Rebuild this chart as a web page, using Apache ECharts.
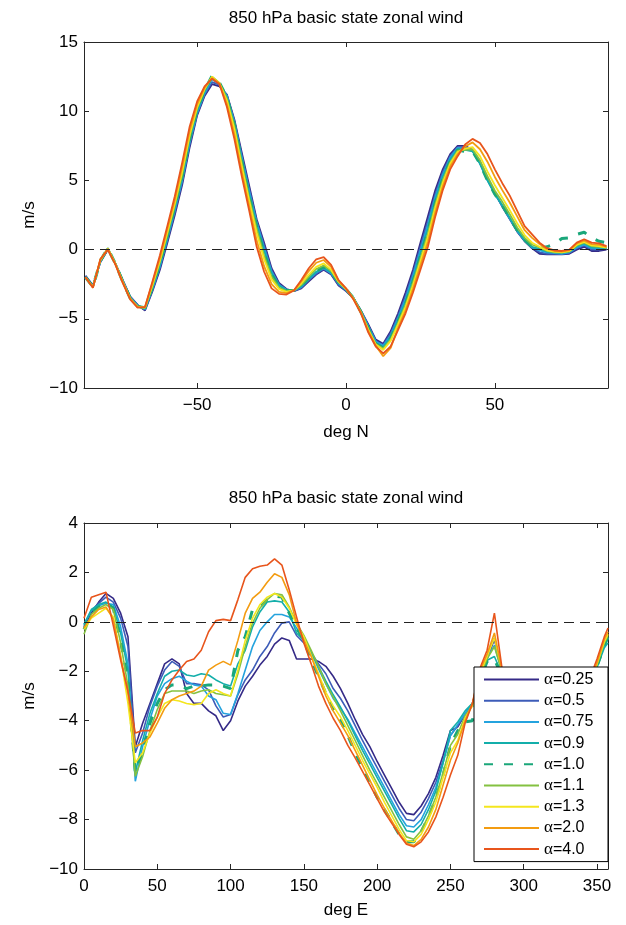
<!DOCTYPE html>
<html><head><meta charset="utf-8">
<script src="https://cdn.jsdelivr.net/npm/echarts@6/dist/echarts.min.js"></script>
<style>html,body{margin:0;padding:0;background:#fff}#c{width:626px;height:925px}</style>
</head><body><div id="c"></div>
<script>
// ---------- data ----------
const seriesNames = ['α=0.25','α=0.5','α=0.75','α=0.9','α=1.0','α=1.1','α=1.3','α=2.0','α=4.0'];
const seriesColors = ['#352a87','#3d5cb8','#24a3de','#13aeaa','#1aa77a','#84c141','#f4e61e','#f39c11','#e8551c'];

const latitudes = [-87.5,-85,-82.5,-80,-77.5,-75,-72.5,-70,-67.5,-65,-62.5,-60,-57.5,-55,-52.5,-50,-47.5,-45,-42.5,-40,-37.5,-35,-32.5,-30,-27.5,-25,-22.5,-20,-17.5,-15,-12.5,-10,-7.5,-5,-2.5,0,2.5,5,7.5,10,12.5,15,17.5,20,22.5,25,27.5,30,32.5,35,37.5,40,42.5,45,47.5,50,52.5,55,57.5,60,62.5,65,67.5,70,72.5,75,77.5,80,82.5,85,87.5];

const latWind_a025 = [-1.9,-2.6,-0.9,0.0,-1.0,-2.2,-3.4,-4.0,-4.4,-3.0, -1.45,0.5,2.5,4.7,7.4,9.7,11.1,11.95,11.8,11.2, 9.4,7.0,4.6,2.2,0.5,-1.35,-2.4,-2.85,-3.0,-2.8, -2.3,-1.8,-1.45,-1.8,-2.6,-3.0,-3.5,-4.4,-5.4,-6.5, -6.8,-5.9,-4.6,-3.1,-1.45,0.5,2.4,4.3,5.8,6.9, 7.5,7.5,7.2,6.3,5.1,4.1,3.1,2.2,1.3,0.6, 0.1,-0.3,-0.35,-0.35,-0.35,-0.3,0.0,0.2,-0.1,-0.1,0.0];
const latWind_a05 = [-1.9,-2.6,-0.9,0.0,-1.0,-2.2,-3.4,-4.0,-4.35,-2.9, -1.3,0.65,2.7,4.9,7.6,9.8,11.2,12.1,11.9,11.15, 9.3,6.8,4.4,2.05,0.3,-1.5,-2.5,-2.9,-3.0,-2.75, -2.2,-1.75,-1.4,-1.75,-2.55,-2.95,-3.5,-4.45,-5.5,-6.6, -6.9,-6.05,-4.8,-3.35,-1.7,0.2,2.05,4.0,5.6,6.75, 7.4,7.4,7.15,6.25,5.05,4.05,3.15,2.25,1.35,0.65, 0.15,-0.2,-0.3,-0.3,-0.3,-0.25,0.1,0.3,0.0,0.0,0.05];
const latWind_a075 = [-2.0,-2.65,-0.85,0.05,-1.0,-2.25,-3.45,-4.05,-4.3,-2.85, -1.2,0.8,2.85,5.05,7.75,9.9,11.3,12.3,11.95,11.1, 9.2,6.65,4.2,1.95,0.1,-1.6,-2.55,-2.9,-2.95,-2.7, -2.15,-1.65,-1.35,-1.7,-2.45,-2.9,-3.5,-4.45,-5.55,-6.65, -6.95,-6.2,-4.95,-3.55,-1.9,-0.05,1.8,3.8,5.4,6.65, 7.35,7.3,7.15,6.25,5.05,4.05,3.15,2.25,1.35,0.65, 0.15,-0.05,-0.2,-0.25,-0.3,-0.2,0.15,0.35,0.1,0.05,0.1];
const latWind_a09 = [-2.0,-2.7,-0.8,0.1,-1.0,-2.3,-3.5,-4.1,-4.25,-2.75, -1.1,0.9,3.0,5.2,7.9,10.0,11.4,12.45,12.0,11.05, 9.1,6.5,4.0,1.8,-0.1,-1.7,-2.6,-2.95,-2.95,-2.65, -2.1,-1.6,-1.3,-1.65,-2.4,-2.9,-3.5,-4.5,-5.65,-6.75, -7.05,-6.3,-5.1,-3.75,-2.15,-0.3,1.5,3.6,5.25,6.5, 7.25,7.2,7.1,6.2,5.0,4.0,3.2,2.3,1.4,0.7, 0.2,0.05,-0.15,-0.2,-0.25,-0.15,0.25,0.45,0.15,0.15,0.1];
const latWind_a10 = [-2.0,-2.7,-0.8,0.1,-1.0,-2.3,-3.5,-4.1,-4.2,-2.7, -1.0,1.0,3.1,5.3,8.0,10.1,11.5,12.55,12.05,11.0, 9.05,6.4,3.85,1.7,-0.25,-1.8,-2.65,-2.95,-2.95,-2.6, -2.05,-1.55,-1.25,-1.6,-2.35,-2.85,-3.5,-4.5,-5.7,-6.8, -7.1,-6.4,-5.2,-3.9,-2.3,-0.5,1.3,3.4,5.1,6.4, 7.2,7.1,7.1,6.2,5.0,4.0,3.2,2.3,1.4,0.7, 0.2,0.1,0.2,0.4,0.8,0.85,1.1,1.25,0.85,0.6,0.5];
const latWind_a11 = [-2.0,-2.7,-0.8,0.1,-1.0,-2.3,-3.5,-4.1,-4.2,-2.65, -0.9,1.1,3.2,5.45,8.15,10.2,11.55,12.5,12.05,10.9, 8.9,6.25,3.7,1.5,-0.45,-1.95,-2.75,-3.0,-2.95,-2.55, -1.95,-1.4,-1.15,-1.55,-2.35,-2.85,-3.5,-4.5,-5.75,-6.85, -7.15,-6.5,-5.3,-4.0,-2.4,-0.65,1.15,3.25,5.0,6.3, 7.15,7.2,7.25,6.45,5.3,4.25,3.45,2.55,1.6,0.85, 0.35,0.15,-0.1,-0.2,-0.2,-0.15,0.3,0.5,0.25,0.2,0.15];
const latWind_a13 = [-2.0,-2.7,-0.75,0.05,-1.0,-2.35,-3.55,-4.15,-4.2,-2.55, -0.8,1.25,3.35,5.65,8.3,10.3,11.6,12.5,12.0,10.75, 8.7,6.0,3.5,1.2,-0.7,-2.15,-2.85,-3.05,-2.95,-2.45, -1.8,-1.25,-1.0,-1.45,-2.3,-2.85,-3.55,-4.55,-5.8,-6.85, -7.25,-6.6,-5.4,-4.15,-2.6,-0.85,0.9,3.05,4.8,6.2, 7.05,7.3,7.4,6.75,5.65,4.65,3.75,2.85,1.9,1.05, 0.5,0.2,-0.05,-0.15,-0.2,-0.1,0.35,0.55,0.3,0.25,0.15];
const latWind_a20 = [-2.0,-2.75,-0.7,0.05,-1.05,-2.35,-3.55,-4.15,-4.15,-2.4, -0.6,1.5,3.6,6.0,8.6,10.5,11.7,12.4,12.0,10.5, 8.3,5.6,3.1,0.65,-1.2,-2.5,-3.05,-3.15,-2.95,-2.3, -1.55,-0.95,-0.75,-1.25,-2.25,-2.8,-3.55,-4.55,-5.9,-6.95, -7.7,-7.1,-5.65,-4.4,-2.85,-1.15,0.55,2.7,4.55,6.0, 6.9,7.45,7.75,7.25,6.35,5.25,4.3,3.4,2.4,1.4, 0.85,0.4,0.05,-0.1,-0.15,-0.05,0.45,0.65,0.4,0.35,0.2];
const latWind_a40 = [-2.0,-2.75,-0.7,0.0,-1.05,-2.4,-3.6,-4.2,-4.15,-2.3, -0.4,1.7,3.85,6.3,8.9,10.7,11.8,12.35,11.95,10.3, 8.0,5.3,2.8,0.2,-1.6,-2.8,-3.2,-3.25,-2.95,-2.2, -1.35,-0.7,-0.55,-1.1,-2.2,-2.8,-3.6,-4.6,-6.0,-7.0, -7.5,-7.0,-5.8,-4.6,-3.1,-1.45,0.2,2.4,4.3,5.8, 6.75,7.6,8.0,7.7,6.9,5.8,4.8,3.9,2.8,1.7, 1.1,0.5,0.1,-0.05,-0.1,0.0,0.5,0.75,0.5,0.45,0.25];

const longitudes = [0,5,10,15,20,25,30,35,40,45,50,55,60,65,70,75,80,85,90,95,100,105,110,115,120,125,130,135,140,145,150,155,160,165,170,175,180,185,190,195,200,205,210,215,220,225,230,235,240,245,250,255,260,265,270,275,280,285,290,295,300,305,310,315,320,325,330,335,340,345,350,355,357.5];

const lonWind_a025 = [-0.2,0.35,0.8,1.15,0.95,0.35,-0.6,-5.05,-4.1,-3.3, -2.5,-1.7,-1.5,-1.7,-2.9,-3.3,-3.3,-3.6,-3.8,-4.4, -4.0,-3.2,-2.6,-2.2,-1.75,-1.4,-0.9,-0.65,-0.75,-1.5, -1.5,-1.5,-1.6,-1.8,-2.2,-2.7,-3.3,-3.95,-4.55,-5.05, -5.65,-6.2,-6.75,-7.3,-7.75,-7.8,-7.45,-6.95,-6.3,-5.4, -4.4,-4.25,-3.75,-3.3,-2.4,-1.5,-0.7,-2.0,-3.0,-3.4, -3.6,-3.8,-3.9,-4.0,-4.0,-3.9,-3.7,-3.4,-3.0,-2.5, -1.75,-0.85,-0.6];
const lonWind_a05 = [-0.15,0.45,0.75,1.0,0.8,0.15,-1.0,-5.3,-4.5,-3.4, -2.6,-1.95,-1.6,-1.8,-2.5,-2.5,-2.55,-2.75,-3.4,-3.85, -3.75,-2.95,-2.35,-1.95,-1.4,-1.0,-0.45,-0.05,0.0,-0.55, -0.85,-1.25,-1.7,-2.1,-2.7,-3.1,-3.6,-4.2,-4.8,-5.35, -5.9,-6.45,-7.0,-7.55,-8.0,-8.05,-7.7,-7.15,-6.5,-5.6, -4.6,-4.2,-3.75,-3.3,-2.3,-1.4,-0.65,-2.0,-3.0,-3.5, -3.7,-3.9,-4.0,-4.1,-4.1,-4.0,-3.8,-3.5,-3.1,-2.55, -1.75,-0.9,-0.65];
const lonWind_a075 = [-0.1,0.45,0.65,0.75,0.7,-0.2,-1.7,-6.45,-5.05,-3.95, -3.0,-2.5,-2.3,-2.2,-2.4,-2.55,-2.6,-3.0,-3.15,-3.7, -3.75,-2.9,-1.95,-1.0,-0.35,0.0,0.3,0.3,0.2,-0.25, -0.65,-1.25,-1.9,-2.5,-3.1,-3.5,-3.95,-4.5,-5.05,-5.6, -6.15,-6.7,-7.25,-7.8,-8.25,-8.3,-8.0,-7.4,-6.7,-5.7, -4.6,-4.15,-3.7,-3.3,-2.3,-1.45,-0.95,-2.0,-3.1,-3.5, -3.8,-4.0,-4.1,-4.2,-4.2,-4.1,-3.9,-3.6,-3.2,-2.6, -1.8,-0.95,-0.7];
const lonWind_a09 = [-0.1,0.5,0.7,0.8,0.6,-0.45,-1.95,-6.1,-4.8,-3.7, -2.9,-2.2,-2.0,-1.95,-2.15,-2.2,-2.1,-2.15,-2.35,-2.5, -2.6,-1.7,-1.15,-0.2,0.4,0.8,0.85,0.8,0.4,-0.45, -0.75,-1.25,-1.8,-2.4,-2.95,-3.45,-4.0,-4.6,-5.2,-5.75, -6.3,-6.85,-7.4,-7.95,-8.45,-8.5,-8.2,-7.6,-6.85,-5.7, -4.4,-4.05,-3.6,-3.3,-2.3,-1.55,-1.4,-2.1,-3.1,-3.6, -3.9,-4.1,-4.2,-4.3,-4.3,-4.2,-4.0,-3.7,-3.3,-2.7, -1.85,-1.05,-0.85];
const lonWind_a10 = [-0.3,0.35,0.6,0.75,0.55,-0.8,-2.35,-6.1,-5.25,-4.1, -3.3,-2.75,-2.55,-2.55,-2.7,-2.6,-2.6,-2.55,-2.55,-2.6, -2.7,-1.15,-0.6,0.5,0.6,0.9,1.05,1.0,0.35,-0.25, -0.75,-1.55,-2.2,-2.9,-3.55,-4.0,-4.6,-5.3,-5.9,-6.5, -7.1,-7.6,-8.1,-8.6,-8.9,-8.9,-8.5,-7.9,-7.15,-6.2, -5.0,-4.4,-4.05,-4.0,-2.4,-1.6,-1.5,-2.2,-3.2,-3.7, -4.0,-4.2,-4.3,-4.4,-4.4,-4.3,-4.1,-3.8,-3.3,-2.65, -1.8,-0.95,-0.6];
const lonWind_a11 = [-0.5,0.3,0.55,0.7,0.5,-0.85,-2.6,-6.25,-5.45,-4.4, -3.55,-2.9,-2.8,-2.8,-2.8,-2.9,-2.8,-2.75,-2.9,-2.95, -3.0,-2.1,-1.0,-0.05,0.55,0.9,1.15,1.1,0.6,-0.05, -0.55,-1.15,-1.8,-2.5,-3.05,-3.6,-4.2,-4.8,-5.4,-6.0, -6.55,-7.1,-7.65,-8.2,-8.7,-8.8,-8.45,-7.85,-7.1,-6.1, -5.0,-4.55,-3.8,-3.4,-2.2,-1.5,-1.0,-2.0,-3.1,-3.6, -3.9,-4.1,-4.2,-4.3,-4.3,-4.2,-4.0,-3.7,-3.2,-2.6, -1.75,-0.85,-0.55];
const lonWind_a13 = [-0.3,0.15,0.35,0.55,0.2,-1.4,-3.3,-5.7,-5.3,-4.5, -3.85,-3.3,-3.15,-3.2,-3.3,-3.35,-3.3,-2.9,-2.75,-2.9, -3.0,-1.95,-0.75,0.15,0.7,1.0,1.15,1.0,0.55,-0.1, -0.6,-1.35,-2.1,-2.85,-3.4,-3.85,-4.4,-5.0,-5.6,-6.15, -6.7,-7.3,-7.85,-8.4,-8.85,-8.9,-8.6,-8.0,-7.3,-6.3, -5.3,-4.8,-3.9,-3.4,-2.1,-1.4,-0.65,-1.9,-3.0,-3.5, -3.8,-4.0,-4.1,-4.2,-4.2,-4.1,-3.9,-3.6,-3.1,-2.5, -1.7,-0.8,-0.5];
const lonWind_a20 = [-0.25,0.2,0.5,0.6,0.1,-1.4,-2.9,-5.05,-4.9,-4.65, -4.1,-3.5,-3.15,-3.0,-2.9,-2.8,-2.6,-1.95,-1.75,-1.6, -1.75,-0.75,0.35,0.95,1.2,1.6,1.95,1.8,1.1,-0.05, -0.75,-1.4,-2.2,-3.0,-3.6,-4.1,-4.6,-5.2,-5.8,-6.4, -7.0,-7.55,-8.05,-8.55,-8.95,-9.05,-8.8,-8.3,-7.6,-6.6, -5.6,-4.9,-4.0,-3.3,-2.0,-1.3,-0.45,-1.9,-3.0,-3.5, -3.8,-4.0,-4.1,-4.2,-4.2,-4.1,-3.9,-3.6,-3.1,-2.45, -1.65,-0.7,-0.4];
const lonWind_a40 = [0.15,1.0,1.1,1.2,-0.15,-1.55,-2.8,-4.5,-4.4,-4.4, -3.85,-2.9,-2.35,-1.95,-1.6,-1.5,-1.15,-0.4,0.05,0.1, 0.05,0.9,1.8,2.15,2.25,2.3,2.55,2.3,1.3,0.2, -0.85,-1.7,-2.6,-3.3,-3.9,-4.4,-5.0,-5.5,-6.05,-6.6, -7.15,-7.7,-8.15,-8.6,-9.0,-9.1,-8.9,-8.5,-7.9,-7.1, -6.2,-5.4,-4.1,-3.3,-1.9,-1.15,0.35,-1.8,-2.9,-3.4, -3.7,-3.9,-4.0,-4.1,-4.1,-4.0,-3.8,-3.5,-3.0,-2.3, -1.5,-0.6,-0.25];

const latTicks = [-50, 0, 50];
const lonTicks = [0, 50, 100, 150, 200, 250, 300, 350];

const latSeries = [latWind_a025, latWind_a05, latWind_a075, latWind_a09, latWind_a10, latWind_a11, latWind_a13, latWind_a20, latWind_a40];
const lonSeries = [lonWind_a025, lonWind_a05, lonWind_a075, lonWind_a09, lonWind_a10, lonWind_a11, lonWind_a13, lonWind_a20, lonWind_a40];

// ---------- chart ----------
const FONT = 'Liberation Sans, Arial, Helvetica, sans-serif';
const AX = '#262626';
const fmt = v => String(v).replace('-', '\u2212');

function xAxes(gi, min, max, ticks, name, gap) {
  return [
    {type:'value', gridIndex:gi, min, max, position:'bottom',
     axisLine:{show:true, onZero:false, lineStyle:{color:AX, width:1}},
     axisTick:{show:true, inside:true, length:5, customValues:ticks, lineStyle:{color:AX}},
     axisLabel:{customValues:ticks, fontSize:17, color:'#000', margin:9, fontFamily:FONT, formatter:fmt},
     splitLine:{show:false},
     name, nameLocation:'middle', nameGap:gap, nameTextStyle:{fontSize:17, color:'#000', fontFamily:FONT}},
    {type:'value', gridIndex:gi, min, max, position:'top',
     axisLine:{show:true, onZero:false, lineStyle:{color:AX, width:1}},
     axisTick:{show:true, inside:true, length:5, customValues:ticks, lineStyle:{color:AX}},
     axisLabel:{show:false}, splitLine:{show:false}}
  ];
}
function yAxes(gi, min, max, interval) {
  return [
    {type:'value', gridIndex:gi, min, max, interval, position:'left',
     axisLine:{show:true, onZero:false, lineStyle:{color:AX, width:1}},
     axisTick:{show:true, inside:true, length:5, lineStyle:{color:AX}},
     axisLabel:{fontSize:17, color:'#000', margin:6, fontFamily:FONT, formatter:fmt},
     splitLine:{show:false},
     name:'m/s', nameLocation:'middle', nameGap:41, nameTextStyle:{fontSize:17, color:'#000', fontFamily:FONT}},
    {type:'value', gridIndex:gi, min, max, interval, position:'right',
     axisLine:{show:true, onZero:false, lineStyle:{color:AX, width:1}},
     axisTick:{show:true, inside:true, length:5, lineStyle:{color:AX}},
     axisLabel:{show:false}, splitLine:{show:false}}
  ];
}

const zeroLine = {silent:true, symbol:['none','none'], label:{show:false}, animation:false,
  lineStyle:{type:[10,6], color:'#222', width:1}, data:[{yAxis:0}]};

const series = [];
latSeries.forEach((arr, k) => {
  series.push({type:'line', name:seriesNames[k], xAxisIndex:0, yAxisIndex:0, symbol:'none',
    data: latitudes.map((x,i)=>[x, arr[i]]),
    lineStyle:{color:seriesColors[k], width: k===4 ? 3 : 1.8, type: k===4 ? [9,11] : 'solid'},
    itemStyle:{color:seriesColors[k]},
    markLine: k===0 ? zeroLine : undefined});
});
lonSeries.forEach((arr, k) => {
  series.push({type:'line', name:seriesNames[k], xAxisIndex:2, yAxisIndex:2, symbol:'none',
    data: longitudes.map((x,i)=>[x, arr[i]]),
    lineStyle:{color:seriesColors[k], width: k===4 ? 3 : 1.6, type: k===4 ? [9,11] : 'solid'},
    itemStyle:{color:seriesColors[k]},
    markLine: k===0 ? zeroLine : undefined});
});

const titleStyle = {fontSize:17, fontWeight:'normal', color:'#000', fontFamily:FONT};
const option = {
  animation:false,
  backgroundColor:'#fff',
  textStyle:{fontFamily:FONT},
  title:[
    {text:'850 hPa basic state zonal wind', left:346, top:10, padding:0, textAlign:'center', textStyle:titleStyle},
    {text:'850 hPa basic state zonal wind', left:346, top:490, padding:0, textAlign:'center', textStyle:titleStyle}
  ],
  grid:[
    {left:84, top:42, width:524, height:346},
    {left:84, top:523, width:524, height:346}
  ],
  xAxis:[...xAxes(0, -88, 88, latTicks, 'deg N', 36), ...xAxes(1, 0, 357.5, lonTicks, 'deg E', 33)],
  yAxis:[...yAxes(0, -10, 15, 5), ...yAxes(1, -10, 4, 2)],
  legend:{
    data:seriesNames, orient:'vertical', left:474, top:667,
    itemWidth:55, itemHeight:14, itemGap:4.2, padding:[4,4,4,9],
    backgroundColor:'#fff', borderColor:'#000', borderWidth:1, borderRadius:0,
    selectedMode:false, z:10,
    itemStyle:{opacity:0},
    textStyle:{fontSize:16, lineHeight:17, color:'#000', fontFamily:FONT, width:60,
      rich:{g:{fontFamily:'Liberation Serif, Times New Roman, serif', fontSize:17, lineHeight:17, color:'#000'}}},
    formatter: n => '{g|α}' + n.slice(1)
  },
  series
};
const chart = echarts.init(document.getElementById('c'), null, {renderer:'canvas'});
chart.setOption(option);
</script>
</body></html>
